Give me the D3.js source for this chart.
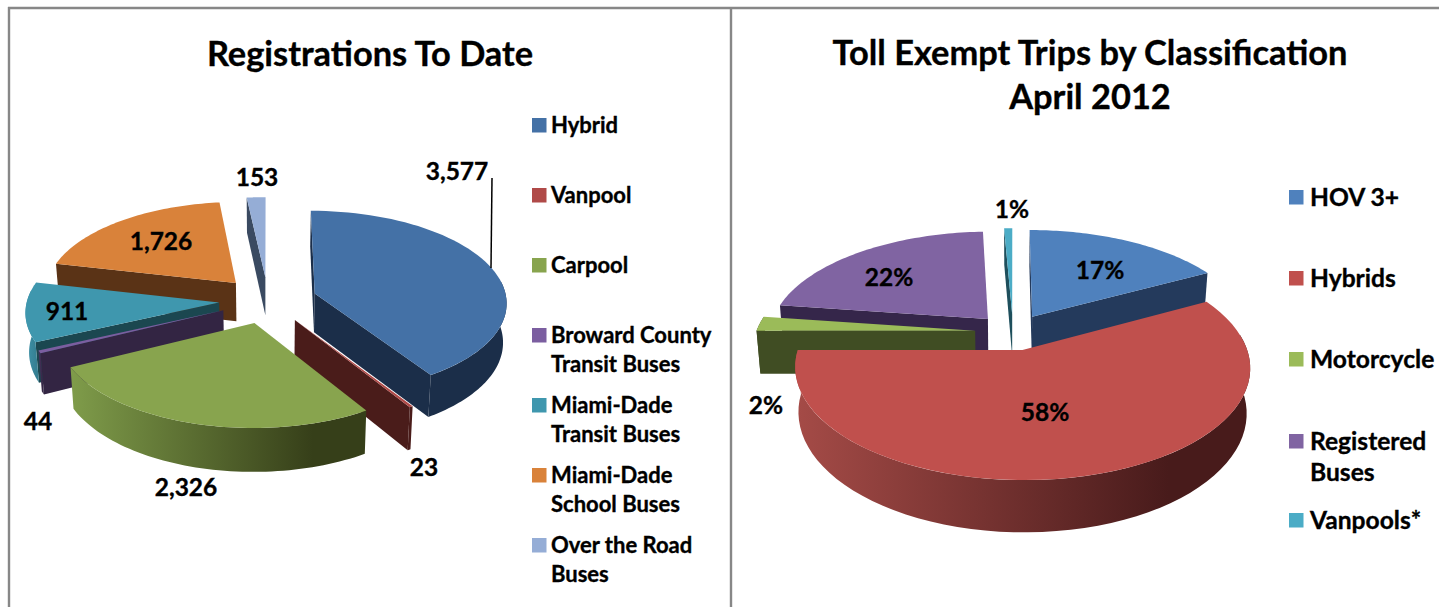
<!DOCTYPE html>
<html>
<head>
<meta charset="utf-8">
<script src="https://cdn.jsdelivr.net/npm/d3@7"></script>
<style>
html, body { margin: 0; padding: 0; background: #fff; overflow: hidden; }
text { font-family: Lato, "Open Sans", sans-serif; font-weight: 700; fill: #000; stroke: #000; stroke-width: 0.35px; }
</style>
</head>
<body>
<div id="chart"></div>
<script>
// values
const regCategories = ["Hybrid", "Vanpool", "Carpool", "Broward County|Transit Buses", "Miami-Dade|Transit Buses", "Miami-Dade|School Buses", "Over the Road|Buses"]
const regValues = [3577, 23, 2326, 44, 911, 1726, 153]
const regLabels = ["3,577", "23", "2,326", "44", "911", "1,726", "153"]

// labels are rounded in the picture, the slices themselves read a little off the round numbers
const tripCategories = ["HOV 3+", "Hybrids", "Motorcycle", "Registered|Buses", "Vanpools*"]
const tripValues = [17.2, 57.8, 2.2, 22.1, 0.7]
const tripLabels = ["17%", "58%", "2%", "22%", "1%"]

// colours: top face, cut wall, rim wall left, rim wall right
const regColors = ["#4471a6", "#b04a48", "#88a44e", "#7b5ea0", "#3f97ae", "#d9823a", "#95add6"]
const regCut = ["#1b2e49", "#4a1c1a", "#3a441c", "#332543", "#1b4750", "#5a3316", "#3a4a61"]
const regRimA = ["#1b2e49", "#4a1c1a", "#7f9c4a", "#4a3560", "#3f93aa", "#5a3316", "#3a4a61"]
const regRimB = ["#1b2e49", "#4a1c1a", "#363f19", "#332543", "#357f92", "#5a3316", "#3a4a61"]
const tripColors = ["#4f81bd", "#c0504d", "#9bbb59", "#8064a2", "#4bacc6"]
const tripCut = ["#243a5c", "#4a1c1a", "#404d23", "#35264a", "#1e4f5c"]
const tripRimA = ["#243a5c", "#a54b47", "#404d23", "#35264a", "#1e4f5c"]
const tripRimB = ["#243a5c", "#481b1b", "#404d23", "#35264a", "#1e4f5c"]

const width = 1439, height = 607

const svg = d3.select("#chart").append("svg")
    .attr("width", width)
    .attr("height", height)
    .style("display", "block")
const defs = svg.append("defs")

// frame lines
const frame = svg.append("g").attr("stroke", "#878787").attr("stroke-width", 2.4)
frame.append("line").attr("x1", 8).attr("x2", width).attr("y1", 8).attr("y2", 8)
frame.append("line").attr("x1", 9).attr("x2", 9).attr("y1", 7).attr("y2", height)
frame.append("line").attr("x1", 731).attr("x2", 731).attr("y1", 7).attr("y2", height)

const toDeg = d3.scaleLinear().domain([0, 2 * Math.PI]).range([0, 360])
const rad = d => d * Math.PI / 180
const line = d3.line()

// exploded 3d pie, angles from d3.pie, faces projected with a small perspective
function drawPie(id, values, colors, cut, rimA, rimB, geo) {
    const arcs = d3.pie().sort(null)(values)
    const g = svg.append("g").attr("class", "pie-" + id)

    const project = (X, Y, drop) => {
        const s = 1 / (1 - geo.p * Y / geo.R)
        const b = drop ? geo.base : 1
        return [geo.cx + X * s * b, geo.cy + Y * geo.k * s + (drop || 0) * s]
    }

    const slices = arcs.map((a, i) => {
        const start = toDeg(a.startAngle), end = toDeg(a.endAngle), mid = (start + end) / 2
        const ax = geo.explode * Math.sin(rad(mid)), ay = -geo.explode * Math.cos(rad(mid))
        const rim = (deg, drop) => project(ax + geo.R * Math.sin(rad(deg)), ay - geo.R * Math.cos(rad(deg)), drop)
        const apex = drop => project(ax, ay, drop)
        return { i, start, end, mid, ax, ay, rim, apex, depth: ay + geo.R * 0.5 * (-Math.cos(rad(mid))) }
    }).sort((a, b) => a.depth - b.depth)

    const sweep = (from, to) => d3.range(0, 61).map(t => from + (to - from) * t / 60)

    slices.forEach(sl => {
        const h = geo.h, i = sl.i

        // cut walls, only the ones facing the viewer
        if (sl.start > 180 || sl.start < 1) {
            g.append("path")
                .attr("d", line([sl.apex(0), sl.rim(sl.start, 0), sl.rim(sl.start, h), sl.apex(h)]) + "Z")
                .attr("fill", cut[i])
        }
        if (sl.end < 180) {
            g.append("path")
                .attr("d", line([sl.apex(0), sl.rim(sl.end, 0), sl.rim(sl.end, h), sl.apex(h)]) + "Z")
                .attr("fill", cut[i])
        }

        // outer wall, front half only
        const from = Math.max(sl.start, 82), to = Math.min(sl.end, 278)
        if (to > from) {
            const gid = "rim-" + id + "-" + i
            const grad = defs.append("linearGradient").attr("id", gid).attr("x1", 0).attr("x2", 1).attr("y1", 0).attr("y2", 0)
            grad.append("stop").attr("offset", 0).attr("stop-color", rimA[i])
            grad.append("stop").attr("offset", 0.82).attr("stop-color", rimB[i])
            const pts = sweep(from, to)
            const wall = pts.map(d => sl.rim(d, 0)).concat(pts.slice().reverse().map(d => sl.rim(d, h)))
            g.append("path").attr("d", line(wall) + "Z").attr("fill", "url(#" + gid + ")")
        }

        // top face
        const top = [sl.apex(0)].concat(sweep(sl.start, sl.end).map(d => sl.rim(d, 0)))
        g.append("path").attr("d", line(top) + "Z").attr("fill", colors[i])
    })
}

function drawLegend(categories, colors, items) {
    categories.forEach((c, i) => {
        const lines = c.split("|")
        svg.append("rect")
            .attr("x", items.box).attr("y", items.y[i] - 7)
            .attr("width", 14.5).attr("height", 14.5)
            .attr("fill", colors[i])
        lines.forEach((t, j) => {
            svg.append("text")
                .attr("x", items.text).attr("y", items.y[i] + j * items.lead)
                .attr("dy", "0.35em")
                .attr("font-size", items.size)
                .text(t)
        })
    })
}

function drawLabels(labels, pos, size) {
    labels.forEach((t, i) => {
        svg.append("text")
            .attr("x", pos[i][0]).attr("y", pos[i][1])
            .attr("dy", "0.35em")
            .attr("text-anchor", "middle")
            .attr("font-size", size)
            .text(t)
    })
}

// left pie
drawPie("reg", regValues, regColors, regCut, regRimA, regRimB,
    { cx: 268, cy: 300, R: 192, k: 0.475, p: 0.09, explode: 49, h: 39, base: 0.985 })
// leader line for the first label
svg.append("line").attr("x1", 492).attr("x2", 491).attr("y1", 178).attr("y2", 268)
    .attr("stroke", "#000").attr("stroke-width", 1.5)
drawLabels(regLabels, [[457, 171], [424, 467], [186, 487], [38, 421], [67, 311], [161, 241], [257, 177]], 24.5)
drawLegend(regCategories, regColors, { box: 532, text: 551, size: 22, lead: 29, y: [125, 195, 265, 335, 405, 475, 545] })

// right pie
drawPie("trip", tripValues, tripColors, tripCut, tripRimA, tripRimB,
    { cx: 1013, cy: 332, R: 219, k: 0.476, p: 0.152, explode: 38, h: 43, base: 0.985 })
drawLabels(tripLabels, [[1100, 270], [1045, 412], [766, 405], [889, 277], [1012, 209]], 24.5)
drawLegend(tripCategories, tripColors, { box: 1289, text: 1310, size: 24.6, lead: 31, y: [197, 278, 359, 441, 520] })

// titles
const titles = [
    { t: "Registrations To Date", x: 370, y: 54 },
    { t: "Toll Exempt Trips by Classification", x: 1090, y: 53 },
    { t: "April 2012", x: 1090, y: 97 }
]
titles.forEach(d => {
    svg.append("text")
        .attr("x", d.x).attr("y", d.y)
        .attr("dy", "0.35em")
        .attr("text-anchor", "middle")
        .attr("font-size", 34.4)
        .text(d.t)
})
</script>
</body>
</html>
